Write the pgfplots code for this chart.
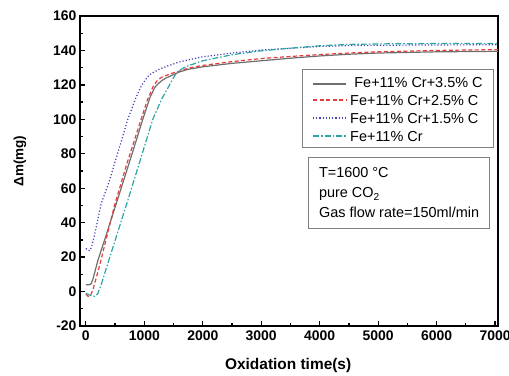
\documentclass[border=0pt]{standalone}
\usepackage{fontspec}
\setmainfont{Liberation Sans}
\usepackage{pgfplots}
\pgfplotsset{compat=1.18}
\definecolor{cgray}{RGB}{110,110,110}
\definecolor{cred}{RGB}{232,60,60}
\definecolor{cblue}{RGB}{65,65,185}
\definecolor{cteal}{RGB}{45,165,165}
\tikzset{legfont/.style={font=\fontsize{14.5}{14.5}\selectfont, anchor=base west, inner sep=0pt}}
\begin{document}
\begin{tikzpicture}
\begin{axis}[
  name=ax,
  scale only axis, width=418bp, height=310bp,
  xmin=-100, xmax=7050, ymin=-20, ymax=160,
  xtick={0,1000,...,7000}, ytick={-20,0,...,160},
  minor x tick num=1, minor y tick num=1,
  tick align=inside, xtick pos=bottom, ytick pos=left,
  major tick length=5bp, minor tick length=3bp,
  tick style={black, line width=1.3bp},
  axis line style={line width=1.8bp},
  scaled x ticks=false,
  /pgf/number format/1000 sep={},
  /pgf/number format/assume math mode=true,
  tick label style={font=\bfseries\fontsize{14}{14}\selectfont},
  xticklabel style={yshift=-1bp},
  xlabel={Oxidation time(s)}, ylabel={Δm(mg)},
  xlabel style={font=\bfseries\fontsize{15.5}{15.5}\selectfont, at={(axis description cs:0.498,-0.128)}, anchor=center},
  ylabel style={font=\bfseries\fontsize{13.5}{13.5}\selectfont, at={(axis description cs:-0.144,0.532)}, anchor=center},
]
\addplot[color=cgray, line width=1.2bp] coordinates {
(0,4) (60,4) (90,4.5) (120,7) (205,18) (350,33) (576,57) (800,81) (974,100) (1100,113) (1180,118.5) (1231,120.5) (1300,122.5) (1373,124) (1500,126) (1600,127.5) (1744,129) (2000,130.5) (2500,132.5) (3000,134) (3500,135.5) (4000,136.8) (4500,137.8) (5000,138.5) (6000,139.2) (7050,139.5)};
\addplot[color=cred, line width=1.2bp, dash pattern=on 4bp off 2.5bp] coordinates {
(0,-1.5) (40,-2.8) (80,-2.3) (120,1) (170,7) (250,17) (490,50) (700,74) (945,100) (1050,111) (1150,119) (1220,122.5) (1300,124.5) (1450,126.5) (1600,128) (1744,129.7) (2000,131.3) (2500,133.5) (3000,135.3) (3500,136.5) (4000,137.6) (4500,138.5) (5000,139.2) (6000,140) (7050,140.5)};
\addplot[color=cblue, line width=1.2bp, dash pattern=on 1.2bp off 2bp] coordinates {
(0,25) (40,24) (70,23.8) (100,26) (150,33) (262,51) (400,64) (550,81) (718,100) (850,112) (950,119.5) (1050,124.5) (1116,126.5) (1250,129) (1400,131) (1600,133.3) (1744,134.5) (2000,136.3) (2500,138.5) (3000,140.2) (3500,141.3) (4000,142.3) (4500,142.8) (5000,143) (6000,143.2) (7050,143.3)};
\addplot[color=cteal, line width=1.2bp, dash pattern=on 6bp off 2bp on 1.5bp off 2bp] coordinates {
(0,-1) (50,-1.8) (100,-2.5) (150,-2.7) (200,-1.5) (262,4) (410,20) (718,53) (900,73) (1145,100) (1300,112) (1400,118) (1480,123) (1550,127) (1650,129.5) (1744,131) (2000,134) (2500,137.5) (3000,139.8) (3500,141.3) (4000,142.7) (4500,143.5) (5000,143.8) (6000,144) (7050,144)};
\draw[gray, line width=0.8bp, fill=white] (rel axis cs:0.531,0.577) rectangle (rel axis cs:0.988,0.829);
\addplot[forget plot, color=cgray, line width=1.2bp] coordinates {(3886,120.5) (4450,120.5)};
\addplot[forget plot, color=cred, line width=1.2bp, dash pattern=on 4bp off 2.5bp] coordinates {(3886,111.2) (4450,111.2)};
\addplot[forget plot, color=cblue, line width=1.2bp, dash pattern=on 1.2bp off 2bp] coordinates {(3886,100.8) (4450,100.8)};
\addplot[forget plot, color=cteal, line width=1.2bp, dash pattern=on 6bp off 2bp on 1.5bp off 2bp] coordinates {(3886,90.3) (4450,90.3)};
\node[legfont] at (rel axis cs:0.656,0.768) {Fe+11\% Cr+3.5\% C};
\node[legfont] at (rel axis cs:0.646,0.710) {Fe+11\% Cr+2.5\% C};
\node[legfont] at (rel axis cs:0.646,0.652) {Fe+11\% Cr+1.5\% C};
\node[legfont] at (rel axis cs:0.646,0.594) {Fe+11\% Cr};
\node[draw=gray, line width=0.8bp, anchor=north west, align=left, inner xsep=9bp, inner ysep=4bp,
  minimum width=181bp, minimum height=71bp, font=\fontsize{14.5}{20}\selectfont]
  at (rel axis cs:0.546,0.545) {T=1600 \textdegree C\\pure CO\textsubscript{2}\\Gas flow rate=150ml/min};
\end{axis}
\pgfresetboundingbox
\path[use as bounding box] (ax.south west) ++(-80bp,-50bp) rectangle ++(509bp,376bp);
\end{tikzpicture}
\end{document}
